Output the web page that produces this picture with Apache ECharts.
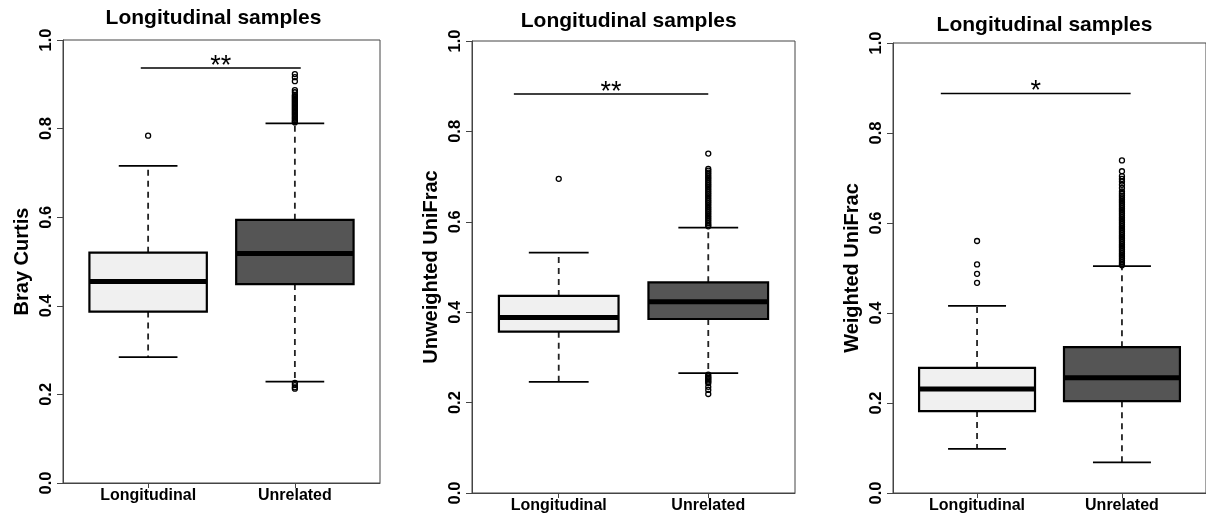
<!DOCTYPE html>
<html>
<head>
<meta charset="utf-8">
<script src="https://cdn.jsdelivr.net/npm/echarts@6/dist/echarts.min.js"></script>
<style>
  html, body { margin: 0; padding: 0; background: #fff; }
  #chart { width: 1206px; height: 516px; }
</style>
</head>
<body>
<div id="chart"></div>
<script>
// ---------------- data ----------------
const categories = ['Longitudinal', 'Unrelated'];
const panelTitles = ['Longitudinal samples', 'Longitudinal samples', 'Longitudinal samples'];
const yNames = ['Bray Curtis', 'Unweighted UniFrac', 'Weighted UniFrac'];
const yTicks = [0, 0.2, 0.4, 0.6, 0.8, 1.0];

// [min whisker, Q1, median, Q3, max whisker]
const bcLong  = [0.284, 0.387, 0.455, 0.520, 0.716];
const bcUnrel = [0.229, 0.449, 0.518, 0.594, 0.812];
const bcLongOut  = [0.784];
const bcUnrelOut = [0.923, 0.916, 0.907, 0.887, 0.882, 0.876, 0.873, 0.870, 0.867, 0.864,
                    0.861, 0.858, 0.855, 0.852, 0.849, 0.846, 0.843, 0.840, 0.837, 0.834,
                    0.831, 0.828, 0.825, 0.822, 0.819, 0.816, 0.814,
                    0.226, 0.221, 0.216, 0.213];

const uuLong  = [0.246, 0.357, 0.388, 0.436, 0.532];
const uuUnrel = [0.265, 0.385, 0.423, 0.466, 0.587];
const uuLongOut  = [0.695];
const uuUnrelOut = [0.751, 0.717, 0.713, 0.709, 0.705, 0.701, 0.697, 0.693, 0.689, 0.685,
                    0.681, 0.677, 0.673, 0.669, 0.665, 0.661, 0.657, 0.653, 0.649, 0.645,
                    0.641, 0.637, 0.633, 0.629, 0.625, 0.621, 0.617, 0.613, 0.609, 0.605,
                    0.601, 0.597, 0.593, 0.590,
                    0.262, 0.258, 0.255, 0.252, 0.249, 0.246, 0.243, 0.235, 0.228, 0.219];

const wuLong  = [0.098, 0.182, 0.231, 0.278, 0.416];
const wuUnrel = [0.068, 0.204, 0.256, 0.324, 0.504];
const wuLongOut  = [0.560, 0.508, 0.487, 0.467];
const wuUnrelOut = [0.739, 0.715, 0.704, 0.698, 0.692, 0.685, 0.678, 0.670, 0.665, 0.661,
                    0.657, 0.653, 0.649, 0.645, 0.641, 0.637, 0.633, 0.629, 0.625, 0.621,
                    0.617, 0.613, 0.609, 0.605, 0.601, 0.597, 0.593, 0.589, 0.585, 0.581,
                    0.577, 0.573, 0.569, 0.565, 0.561, 0.557, 0.553, 0.549, 0.545, 0.541,
                    0.537, 0.533, 0.529, 0.525, 0.521, 0.517, 0.513, 0.509, 0.506];

// significance bars: [x from, x to, y, label]
const sigBars = [
  [0.95, 2.04, 0.937, '**'],
  [0.70, 2.00, 0.883, '**'],
  [0.75, 2.06, 0.888, '*']
];

const panels = [
  { box: [bcLong, bcUnrel], out: [bcLongOut, bcUnrelOut] },
  { box: [uuLong, uuUnrel], out: [uuLongOut, uuUnrelOut] },
  { box: [wuLong, wuUnrel], out: [wuLongOut, wuUnrelOut] }
];

// ---------------- layout / style ----------------
const grids = [
  { left: 63,  top: 40, width: 317, height: 443 },
  { left: 472, top: 41, width: 323, height: 452 },
  { left: 893, top: 43, width: 322, height: 450 }
];
const titlePos = [ { x: 213.5, y: 8 }, { x: 628.7, y: 11 }, { x: 1044.5, y: 15 } ];
const boxFills = ['#f0f0f0', '#555555'];
const FONT = '"Liberation Sans", Arial, Helvetica, sans-serif';
const AXIS_COLOR = '#444';

const chart = echarts.init(document.getElementById('chart'), null, { renderer: 'canvas' });

const option = {
  animation: false,
  backgroundColor: '#fff',
  title: panelTitles.map((t, i) => ({
    text: t, left: titlePos[i].x, top: titlePos[i].y, textAlign: 'center', padding: 0,
    textStyle: { fontFamily: FONT, fontWeight: 'bold', fontSize: 21, color: '#000' }
  })),
  grid: grids.map(g => ({ ...g, show: true, borderColor: AXIS_COLOR, borderWidth: 1, backgroundColor: 'transparent', containLabel: false })),
  xAxis: grids.map((g, i) => ({
    type: 'value', gridIndex: i, min: 0.42, max: 2.58,
    splitLine: { show: false },
    axisLine: { show: true, lineStyle: { color: AXIS_COLOR, width: 1 } },
    axisTick: { show: true, customValues: [1, 2], length: 5, lineStyle: { color: AXIS_COLOR } },
    axisLabel: {
      show: true, customValues: [1, 2], margin: 5,
      formatter: v => categories[Math.round(v) - 1] || '',
      fontFamily: FONT, fontWeight: 'bold', fontSize: 16, color: '#000'
    }
  })),
  yAxis: grids.map((g, i) => ({
    type: 'value', gridIndex: i, min: 0, max: 1, interval: 0.2,
    name: yNames[i], nameLocation: 'middle', nameRotate: 90, nameGap: 31,
    nameTextStyle: { fontFamily: FONT, fontWeight: 'bold', fontSize: 20, color: '#000' },
    splitLine: { show: false },
    axisLine: { show: true, lineStyle: { color: AXIS_COLOR, width: 1 } },
    axisTick: { show: true, length: 6, lineStyle: { color: AXIS_COLOR } },
    axisLabel: {
      show: true, rotate: 90, margin: 8,
      formatter: v => v.toFixed(1),
      fontFamily: FONT, fontWeight: 'bold', fontSize: 16.5, color: '#000'
    }
  })),
  series: []
};

panels.forEach((p, i) => {
  // boxes
  option.series.push({
    type: 'custom', xAxisIndex: i, yAxisIndex: i, silent: true, clip: false,
    data: p.box.map((b, k) => [k + 1, b[0], b[1], b[2], b[3], b[4], k]),
    renderItem: (params, api) => {
      const x = api.value(0);
      const lo = api.value(1), q1 = api.value(2), med = api.value(3), q3 = api.value(4), hi = api.value(5);
      const k = api.value(6);
      const c = (xx, yy) => api.coord([xx, yy]);
      const tl = c(x - 0.4, q3), br = c(x + 0.4, q1);
      const line = (a, b, style) => ({ type: 'line', shape: { x1: a[0], y1: a[1], x2: b[0], y2: b[1] }, style });
      const dashed = { stroke: '#222', lineWidth: 1.8, lineDash: [6, 5] };
      const solid = { stroke: '#000', lineWidth: 1.8 };
      return {
        type: 'group',
        children: [
          line(c(x, q3), c(x, hi), dashed),
          line(c(x, q1), c(x, lo), dashed),
          line(c(x - 0.2, hi), c(x + 0.2, hi), solid),
          line(c(x - 0.2, lo), c(x + 0.2, lo), solid),
          { type: 'rect', shape: { x: tl[0], y: tl[1], width: br[0] - tl[0], height: br[1] - tl[1] },
            style: { fill: boxFills[k], stroke: '#000', lineWidth: 2.2 } },
          line(c(x - 0.4, med), c(x + 0.4, med), { stroke: '#000', lineWidth: 5 })
        ]
      };
    }
  });
  // outliers (open rings, like R pch = 1)
  const outData = [];
  p.out.forEach((arr, k) => arr.forEach(v => outData.push([k + 1, v])));
  option.series.push({
    type: 'scatter', xAxisIndex: i, yAxisIndex: i, silent: true,
    symbol: 'circle', symbolSize: 5,
    itemStyle: { color: 'rgba(255,255,255,0)', borderColor: '#000', borderWidth: 1.3, opacity: 1 },
    data: outData
  });
  // significance bar
  const s = sigBars[i];
  option.series.push({
    type: 'custom', xAxisIndex: i, yAxisIndex: i, silent: true, clip: false,
    data: [[s[0], s[1], s[2]]],
    renderItem: (params, api) => {
      const a = api.coord([api.value(0), api.value(2)]);
      const b = api.coord([api.value(1), api.value(2)]);
      return {
        type: 'group',
        children: [
          { type: 'line', shape: { x1: a[0], y1: a[1], x2: b[0], y2: b[1] }, style: { stroke: '#000', lineWidth: 1.5 } },
          { type: 'text', x: (a[0] + b[0]) / 2, y: a[1] + 12,
            style: { text: s[3], fontFamily: FONT, fontSize: 27, fill: '#000', textAlign: 'center', textVerticalAlign: 'bottom' } }
        ]
      };
    }
  });
});

chart.setOption(option);
</script>
</body>
</html>
